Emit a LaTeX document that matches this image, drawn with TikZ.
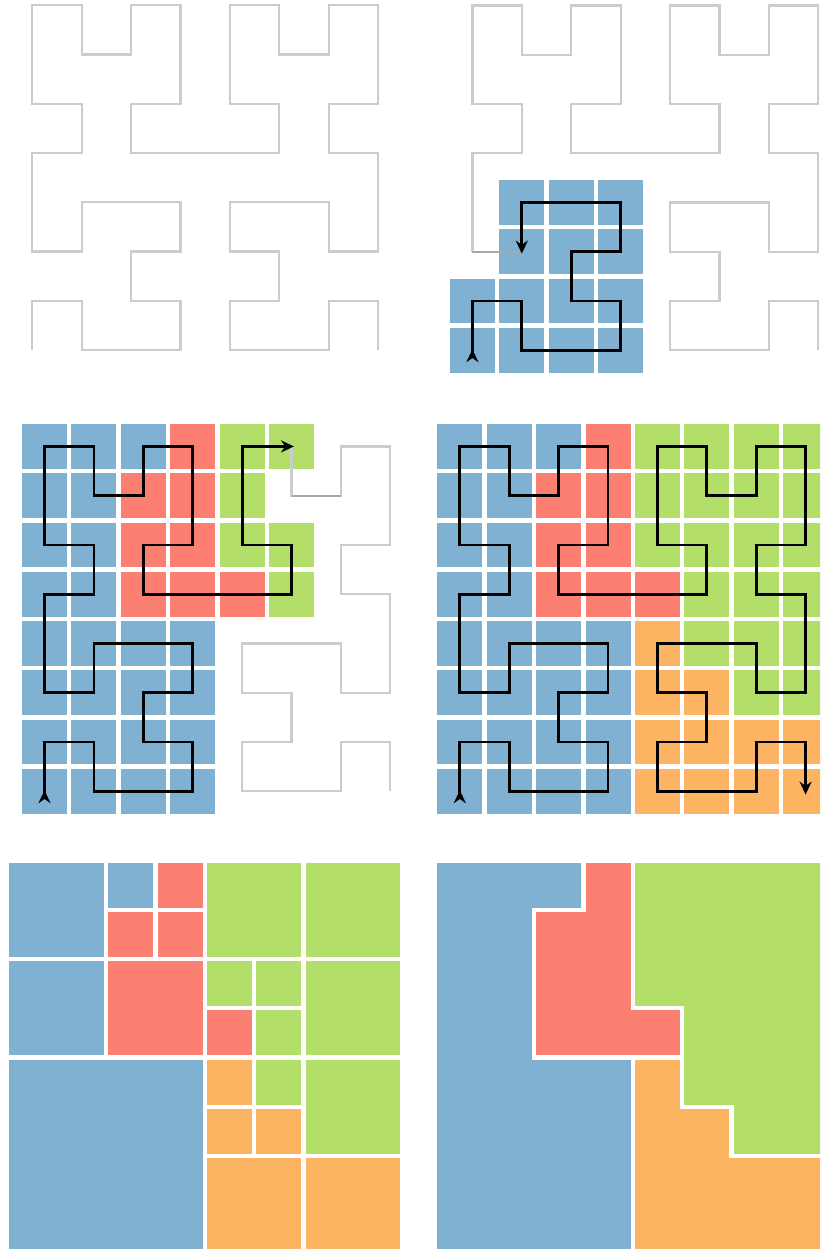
\documentclass[tikz,border=0pt]{standalone}
\usetikzlibrary{arrows.meta}
\definecolor{cB}{HTML}{80B1D3}
\definecolor{cR}{HTML}{FB8072}
\definecolor{cG}{HTML}{B3DE69}
\definecolor{cO}{HTML}{FDB462}
\definecolor{cN}{HTML}{FFFFFF}
\definecolor{curvegray}{HTML}{CCCCCC}
\definecolor{joingray}{HTML}{A8A8A8}
\tikzset{
  cellbox/.style={draw=white, line width=4.4pt, line join=miter},
  graycurve/.style={draw=curvegray, line width=2.2pt},
  joincurve/.style={draw=joingray, line width=1.8pt},
  blackpath/.style={draw=black, line width=2.8pt, line join=miter,
     {Stealth[reversed,length=13pt,width=12pt]}-{Stealth[length=13pt,width=12pt]}},
  panel/.style={x=49.4pt, y=-49.25pt}
}
\begin{document}
\begin{tikzpicture}[x=1pt,y=-1pt]
\useasboundingbox (0,0) rectangle (820,1249);
\clip (0,0) rectangle (820,1249);

% ---------- top left: full curve ----------
\begin{scope}[shift={(7.6,-19.4)}, panel]
 \begin{scope}[shift={(0.5,0.5)}]
  \draw[graycurve] (0,7)--(0,6)--(1,6)--(1,7)--(2,7)--(3,7)--(3,6)--(2,6)--(2,5)--(3,5)--(3,4)--(2,4)--(1,4)--(1,5)--(0,5)--(0,4)--(0,3)--(1,3)--(1,2)--(0,2)--(0,1)--(0,0)--(1,0)--(1,1)--(2,1)--(2,0)--(3,0)--(3,1)--(3,2)--(2,2)--(2,3)--(3,3)--(4,3)--(5,3)--(5,2)--(4,2)--(4,1)--(4,0)--(5,0)--(5,1)--(6,1)--(6,0)--(7,0)--(7,1)--(7,2)--(6,2)--(6,3)--(7,3)--(7,4)--(7,5)--(6,5)--(6,4)--(5,4)--(4,4)--(4,5)--(5,5)--(5,6)--(4,6)--(4,7)--(5,7)--(6,7)--(6,6)--(7,6)--(7,7);
 \end{scope}
\end{scope}

% ---------- top right: first 14 cells ----------
\begin{scope}[shift={(447.7,-19.2)}, panel]
 \foreach \t/\row in {4/{N,B,B,B},5/{N,B,B,B},6/{B,B,B,B},7/{B,B,B,B}}{
   \foreach \col [count=\c from 0] in \row {
     \path[cellbox, fill=c\col] (\c,\t) rectangle ++(1,1);
   }
 }
 \begin{scope}[shift={(0.5,0.5)}]
  \draw[graycurve] (0,5)--(0,4)--(0,3)--(1,3)--(1,2)--(0,2)--(0,1)--(0,0)--(1,0)--(1,1)--(2,1)--(2,0)--(3,0)--(3,1)--(3,2)--(2,2)--(2,3)--(3,3)--(4,3)--(5,3)--(5,2)--(4,2)--(4,1)--(4,0)--(5,0)--(5,1)--(6,1)--(6,0)--(7,0)--(7,1)--(7,2)--(6,2)--(6,3)--(7,3)--(7,4)--(7,5)--(6,5)--(6,4)--(5,4)--(4,4)--(4,5)--(5,5)--(5,6)--(4,6)--(4,7)--(5,7)--(6,7)--(6,6)--(7,6)--(7,7);
  \draw[joincurve] (1,5)--(0,5);
  \draw[blackpath] (0,7.244)--(0,6)--(1,6)--(1,7)--(2,7)--(3,7)--(3,6)--(2,6)--(2,5)--(3,5)--(3,4)--(2,4)--(1,4)--(1,5.04);
 \end{scope}
\end{scope}

% ---------- middle left: first 39 cells ----------
\begin{scope}[shift={(19.8,421.8)}, panel]
 \foreach \t/\row in {0/{B,B,B,R,G,G,N,N},1/{B,B,R,R,G,N,N,N},2/{B,B,R,R,G,G,N,N},3/{B,B,R,R,R,G,N,N},4/{B,B,B,B,N,N,N,N},5/{B,B,B,B,N,N,N,N},6/{B,B,B,B,N,N,N,N},7/{B,B,B,B,N,N,N,N}}{
   \foreach \col [count=\c from 0] in \row {
     \path[cellbox, fill=c\col] (\c,\t) rectangle ++(1,1);
   }
 }
 \begin{scope}[shift={(0.5,0.5)}]
  \draw[graycurve] (5,0)--(5,1)--(6,1)--(6,0)--(7,0)--(7,1)--(7,2)--(6,2)--(6,3)--(7,3)--(7,4)--(7,5)--(6,5)--(6,4)--(5,4)--(4,4)--(4,5)--(5,5)--(5,6)--(4,6)--(4,7)--(5,7)--(6,7)--(6,6)--(7,6)--(7,7);
  \draw[joincurve] (5,1)--(6,1);
  \draw[blackpath] (0,7.244)--(0,6)--(1,6)--(1,7)--(2,7)--(3,7)--(3,6)--(2,6)--(2,5)--(3,5)--(3,4)--(2,4)--(1,4)--(1,5)--(0,5)--(0,4)--(0,3)--(1,3)--(1,2)--(0,2)--(0,1)--(0,0)--(1,0)--(1,1)--(2,1)--(2,0)--(3,0)--(3,1)--(3,2)--(2,2)--(2,3)--(3,3)--(4,3)--(5,3)--(5,2)--(4,2)--(4,1)--(4,0)--(5.05,0);
 \end{scope}
\end{scope}

% ---------- middle right: all 64 cells ----------
\begin{scope}[shift={(435.1,421.8)}, panel]
 \foreach \t/\row in {0/{B,B,B,R,G,G,G,G},1/{B,B,R,R,G,G,G,G},2/{B,B,R,R,G,G,G,G},3/{B,B,R,R,R,G,G,G},4/{B,B,B,B,O,G,G,G},5/{B,B,B,B,O,O,G,G},6/{B,B,B,B,O,O,O,O},7/{B,B,B,B,O,O,O,O}}{
   \foreach \col [count=\c from 0] in \row {
     \path[cellbox, fill=c\col] (\c,\t) rectangle ++(1,1);
   }
 }
 \begin{scope}[shift={(0.5,0.5)}]
  \draw[blackpath] (0,7.244)--(0,6)--(1,6)--(1,7)--(2,7)--(3,7)--(3,6)--(2,6)--(2,5)--(3,5)--(3,4)--(2,4)--(1,4)--(1,5)--(0,5)--(0,4)--(0,3)--(1,3)--(1,2)--(0,2)--(0,1)--(0,0)--(1,0)--(1,1)--(2,1)--(2,0)--(3,0)--(3,1)--(3,2)--(2,2)--(2,3)--(3,3)--(4,3)--(5,3)--(5,2)--(4,2)--(4,1)--(4,0)--(5,0)--(5,1)--(6,1)--(6,0)--(7,0)--(7,1)--(7,2)--(6,2)--(6,3)--(7,3)--(7,4)--(7,5)--(6,5)--(6,4)--(5,4)--(4,4)--(4,5)--(5,5)--(5,6)--(4,6)--(4,7)--(5,7)--(6,7)--(6,6)--(7,6)--(7,7.07);
 \end{scope}
\end{scope}

% ---------- bottom left: quadtree blocks ----------
\begin{scope}[shift={(7.1,860.5)}, panel]
 \foreach \x/\y/\w in {0/0/2, 2/0/1, 0/2/2, 0/4/4}
   \path[cellbox, fill=cB] (\x,\y) rectangle ++(\w,\w);
 \foreach \x/\y/\w in {3/0/1, 2/1/1, 3/1/1, 2/2/2, 4/3/1}
   \path[cellbox, fill=cR] (\x,\y) rectangle ++(\w,\w);
 \foreach \x/\y/\w in {4/0/2, 6/0/2, 4/2/1, 5/2/1, 5/3/1, 6/2/2, 5/4/1, 6/4/2}
   \path[cellbox, fill=cG] (\x,\y) rectangle ++(\w,\w);
 \foreach \x/\y/\w in {4/4/1, 4/5/1, 5/5/1, 4/6/2, 6/6/2}
   \path[cellbox, fill=cO] (\x,\y) rectangle ++(\w,\w);
\end{scope}

% ---------- bottom right: merged regions ----------
\begin{scope}[shift={(435.1,860.5)}, panel]
 \path[cellbox, fill=cB] (0,0)--(3,0)--(3,1)--(2,1)--(2,4)--(4,4)--(4,8)--(0,8)--cycle;
 \path[cellbox, fill=cR] (3,0)--(4,0)--(4,3)--(5,3)--(5,4)--(2,4)--(2,1)--(3,1)--cycle;
 \path[cellbox, fill=cG] (4,0)--(8,0)--(8,6)--(6,6)--(6,5)--(5,5)--(5,3)--(4,3)--cycle;
 \path[cellbox, fill=cO] (4,4)--(5,4)--(5,5)--(6,5)--(6,6)--(8,6)--(8,8)--(4,8)--cycle;
\end{scope}
\end{tikzpicture}
\end{document}
